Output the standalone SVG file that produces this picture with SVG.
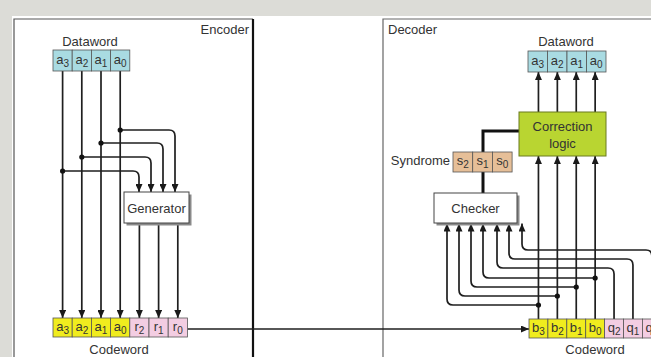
<svg xmlns="http://www.w3.org/2000/svg" width="651" height="357" viewBox="0 0 651 357">
  <defs>
    <marker id="arrow" markerUnits="userSpaceOnUse" markerWidth="8" markerHeight="7" refX="8" refY="3.5" orient="auto">
      <path d="M0,0 L8,3.5 L0,7 z" fill="#1a1a1a"/>
    </marker>
    <style>
      .lbl { font-family: "Liberation Sans", Arial, sans-serif; font-size: 13px; fill: #333; }
      .cell { font-family: "Liberation Sans", Arial, sans-serif; font-size: 13px; fill: #333; text-anchor: middle; }
      .sub { font-size: 10px; }
      .cellbox { stroke: #555; stroke-width: 0.8; }
      .blue { fill: #a9dbe2; }
      .yellow { fill: #f0ec1e; }
      .pink { fill: #f3cde2; }
      .tan { fill: #e6bf98; }
      .wire { fill: none; stroke: #1f1f1f; stroke-width: 1.7; }
      .bus { fill: none; stroke: #111; stroke-width: 3; }
      .dot { fill: #111; }
      .block { fill: #fff; stroke: #444; stroke-width: 1; }
      .shadow { fill: #8a8a8a; }
    </style>
  </defs>

  <!-- page background -->
  <rect x="0" y="0" width="651" height="357" fill="#dcdcd7"/>
  <rect x="12" y="16" width="639" height="341" fill="#ffffff"/>

  <!-- encoder frame -->
  <g id="encoder-frame">
    <path d="M14,357 V19 H253" fill="none" stroke="#555" stroke-width="1.2"/>
    <line x1="253" y1="19" x2="253" y2="357" stroke="#111" stroke-width="2.2"/>
    <text class="lbl" x="249" y="34" text-anchor="end">Encoder</text>
  </g>

  <!-- decoder frame -->
  <g id="decoder-frame">
    <path d="M383,357 V19 H651" fill="none" stroke="#666" stroke-width="1.2"/>
    <text class="lbl" x="388" y="34">Decoder</text>
  </g>

  <!-- connectors -->
  <g id="connectors">
    <!-- encoder: data bits straight down to the codeword -->
    <path class="wire" d="M62.6,71 V318" marker-end="url(#arrow)"/>
    <path class="wire" d="M81.8,71 V318" marker-end="url(#arrow)"/>
    <path class="wire" d="M101,71 V318" marker-end="url(#arrow)"/>
    <path class="wire" d="M120.2,71 V318" marker-end="url(#arrow)"/>
    <!-- encoder: taps into the generator -->
    <path class="wire" d="M120.2,130 H169 Q175,130 175,136 V192" marker-end="url(#arrow)"/>
    <path class="wire" d="M101,143 H157 Q163,143 163,149 V192" marker-end="url(#arrow)"/>
    <path class="wire" d="M81.8,157 H145 Q151,157 151,163 V192" marker-end="url(#arrow)"/>
    <path class="wire" d="M62.6,171 H133 Q139,171 139,177 V192" marker-end="url(#arrow)"/>
    <!-- encoder: generator to redundant bits -->
    <path class="wire" d="M139.4,223 V318" marker-end="url(#arrow)"/>
    <path class="wire" d="M158.6,223 V318" marker-end="url(#arrow)"/>
    <path class="wire" d="M177.8,223 V318" marker-end="url(#arrow)"/>
    <!-- channel -->
    <path class="wire" d="M187.4,329 H529" marker-end="url(#arrow)"/>

    <!-- decoder: received bits up to correction logic -->
    <path class="wire" d="M538.45,319 V156" marker-end="url(#arrow)"/>
    <path class="wire" d="M557.35,319 V156" marker-end="url(#arrow)"/>
    <path class="wire" d="M576.25,319 V156" marker-end="url(#arrow)"/>
    <path class="wire" d="M595.15,319 V156" marker-end="url(#arrow)"/>
    <!-- decoder: correction logic to dataword -->
    <path class="wire" d="M538.45,112 V72" marker-end="url(#arrow)"/>
    <path class="wire" d="M557.35,112 V72" marker-end="url(#arrow)"/>
    <path class="wire" d="M576.25,112 V72" marker-end="url(#arrow)"/>
    <path class="wire" d="M595.15,112 V72" marker-end="url(#arrow)"/>
    <!-- decoder: taps into the checker -->
    <path class="wire" d="M538.45,305 H453 Q447,305 447,299 V223.5" marker-end="url(#arrow)"/>
    <path class="wire" d="M557.35,296 H465 Q459,296 459,290 V223.5" marker-end="url(#arrow)"/>
    <path class="wire" d="M576.25,287 H477 Q471,287 471,281 V223.5" marker-end="url(#arrow)"/>
    <path class="wire" d="M595.15,278 H489 Q483,278 483,272 V223.5" marker-end="url(#arrow)"/>
    <path class="wire" d="M614.05,319 V274 Q614.05,268 608,268 H503 Q497,268 497,262 V223.5" marker-end="url(#arrow)"/>
    <path class="wire" d="M632.95,319 V265 Q632.95,259 627,259 H515 Q509,259 509,253 V223.5" marker-end="url(#arrow)"/>
    <path class="wire" d="M651.85,319 V256 Q651.85,250 646,250 H528 Q522,250 522,244 V223.5" marker-end="url(#arrow)"/>
    <!-- syndrome bus -->
    <path class="bus" d="M483,193 V172"/>
    <path class="bus" d="M483,152 V131 H519"/>

    <!-- junction dots -->
    <circle class="dot" cx="120.2" cy="130" r="2.6"/>
    <circle class="dot" cx="101" cy="143" r="2.6"/>
    <circle class="dot" cx="81.8" cy="157" r="2.6"/>
    <circle class="dot" cx="62.6" cy="171" r="2.6"/>
    <circle class="dot" cx="538.45" cy="305" r="2.6"/>
    <circle class="dot" cx="557.35" cy="296" r="2.6"/>
    <circle class="dot" cx="576.25" cy="287" r="2.6"/>
    <circle class="dot" cx="595.15" cy="278" r="2.6"/>
  </g>

  <!-- encoder dataword -->
  <g id="enc-dataword">
    <text class="lbl" x="90" y="46" text-anchor="middle">Dataword</text>
    <rect class="cellbox blue" x="53" y="50" width="19.2" height="21"/>
    <rect class="cellbox blue" x="72.2" y="50" width="19.2" height="21"/>
    <rect class="cellbox blue" x="91.4" y="50" width="19.2" height="21"/>
    <rect class="cellbox blue" x="110.6" y="50" width="19.2" height="21"/>
    <text class="cell" x="62.6" y="64">a<tspan class="sub" dy="3">3</tspan></text>
    <text class="cell" x="81.8" y="64">a<tspan class="sub" dy="3">2</tspan></text>
    <text class="cell" x="101" y="64">a<tspan class="sub" dy="3">1</tspan></text>
    <text class="cell" x="120.2" y="64">a<tspan class="sub" dy="3">0</tspan></text>
  </g>

  <!-- generator -->
  <g id="generator">
    <rect class="shadow" x="126.5" y="194.5" width="65" height="31"/>
    <rect class="block" x="124" y="192" width="65" height="31"/>
    <text class="lbl" x="156.5" y="212.5" text-anchor="middle">Generator</text>
  </g>

  <!-- encoder codeword -->
  <g id="enc-codeword">
    <rect class="cellbox yellow" x="53" y="318" width="19.2" height="19"/>
    <rect class="cellbox yellow" x="72.2" y="318" width="19.2" height="19"/>
    <rect class="cellbox yellow" x="91.4" y="318" width="19.2" height="19"/>
    <rect class="cellbox yellow" x="110.6" y="318" width="19.2" height="19"/>
    <rect class="cellbox pink" x="129.8" y="318" width="19.2" height="19"/>
    <rect class="cellbox pink" x="149" y="318" width="19.2" height="19"/>
    <rect class="cellbox pink" x="168.2" y="318" width="19.2" height="19"/>
    <text class="cell" x="62.6" y="331">a<tspan class="sub" dy="3">3</tspan></text>
    <text class="cell" x="81.8" y="331">a<tspan class="sub" dy="3">2</tspan></text>
    <text class="cell" x="101" y="331">a<tspan class="sub" dy="3">1</tspan></text>
    <text class="cell" x="120.2" y="331">a<tspan class="sub" dy="3">0</tspan></text>
    <text class="cell" x="139.4" y="331">r<tspan class="sub" dy="3">2</tspan></text>
    <text class="cell" x="158.6" y="331">r<tspan class="sub" dy="3">1</tspan></text>
    <text class="cell" x="177.8" y="331">r<tspan class="sub" dy="3">0</tspan></text>
    <text class="lbl" x="119" y="354" text-anchor="middle">Codeword</text>
  </g>

  <!-- decoder dataword -->
  <g id="dec-dataword">
    <text class="lbl" x="566" y="46" text-anchor="middle">Dataword</text>
    <rect class="cellbox blue" x="528" y="51" width="19.5" height="21"/>
    <rect class="cellbox blue" x="547.5" y="51" width="19.5" height="21"/>
    <rect class="cellbox blue" x="567" y="51" width="19.5" height="21"/>
    <rect class="cellbox blue" x="586.5" y="51" width="19.5" height="21"/>
    <text class="cell" x="537.75" y="65">a<tspan class="sub" dy="3">3</tspan></text>
    <text class="cell" x="557.25" y="65">a<tspan class="sub" dy="3">2</tspan></text>
    <text class="cell" x="576.75" y="65">a<tspan class="sub" dy="3">1</tspan></text>
    <text class="cell" x="596.25" y="65">a<tspan class="sub" dy="3">0</tspan></text>
  </g>

  <!-- correction logic -->
  <g id="correction-logic">
    <rect x="519" y="112" width="87" height="44" fill="#b9d531" stroke="#6a7a20" stroke-width="1"/>
    <text class="lbl" x="562.5" y="131" text-anchor="middle">Correction</text>
    <text class="lbl" x="562.5" y="148" text-anchor="middle">logic</text>
  </g>

  <!-- syndrome -->
  <g id="syndrome">
    <text class="lbl" x="450" y="165" text-anchor="end">Syndrome</text>
    <rect class="cellbox tan" x="453" y="152" width="19.7" height="20"/>
    <rect class="cellbox tan" x="472.7" y="152" width="19.7" height="20"/>
    <rect class="cellbox tan" x="492.4" y="152" width="19.7" height="20"/>
    <text class="cell" x="462.8" y="165">s<tspan class="sub" dy="3">2</tspan></text>
    <text class="cell" x="482.5" y="165">s<tspan class="sub" dy="3">1</tspan></text>
    <text class="cell" x="502.2" y="165">s<tspan class="sub" dy="3">0</tspan></text>
  </g>

  <!-- checker -->
  <g id="checker">
    <rect class="shadow" x="436.5" y="195.5" width="83" height="30"/>
    <rect class="block" x="434" y="193" width="83" height="30"/>
    <text class="lbl" x="475.5" y="212.5" text-anchor="middle">Checker</text>
  </g>

  <!-- decoder codeword -->
  <g id="dec-codeword">
    <rect class="cellbox yellow" x="529" y="319" width="18.9" height="19"/>
    <rect class="cellbox yellow" x="547.9" y="319" width="18.9" height="19"/>
    <rect class="cellbox yellow" x="566.8" y="319" width="18.9" height="19"/>
    <rect class="cellbox yellow" x="585.7" y="319" width="18.9" height="19"/>
    <rect class="cellbox pink" x="604.6" y="319" width="18.9" height="19"/>
    <rect class="cellbox pink" x="623.5" y="319" width="18.9" height="19"/>
    <rect class="cellbox pink" x="642.4" y="319" width="18.9" height="19"/>
    <text class="cell" x="538.45" y="332">b<tspan class="sub" dy="3">3</tspan></text>
    <text class="cell" x="557.35" y="332">b<tspan class="sub" dy="3">2</tspan></text>
    <text class="cell" x="576.25" y="332">b<tspan class="sub" dy="3">1</tspan></text>
    <text class="cell" x="595.15" y="332">b<tspan class="sub" dy="3">0</tspan></text>
    <text class="cell" x="614.05" y="332">q<tspan class="sub" dy="3">2</tspan></text>
    <text class="cell" x="632.95" y="332">q<tspan class="sub" dy="3">1</tspan></text>
    <text class="cell" x="651.85" y="332">q<tspan class="sub" dy="3">0</tspan></text>
    <text class="lbl" x="595" y="354" text-anchor="middle">Codeword</text>
  </g>
</svg>
